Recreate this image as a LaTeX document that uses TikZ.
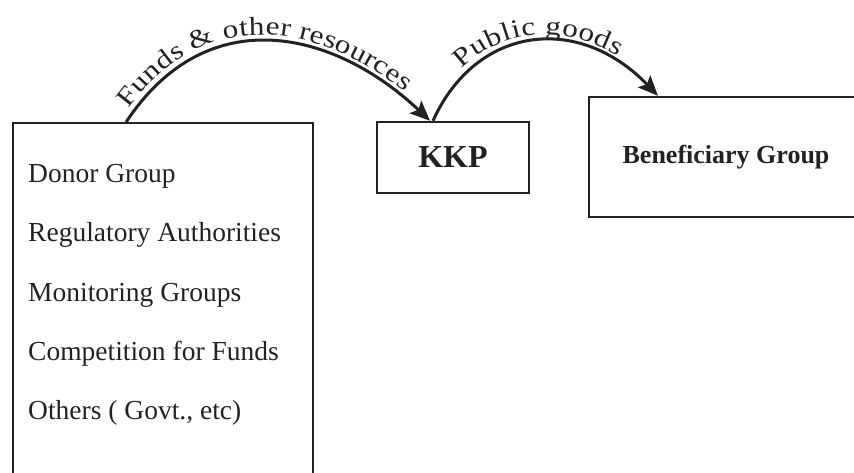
\documentclass[tikz,border=0pt]{standalone}
\usepackage{fontspec}
\setmainfont{Liberation Serif}
\newfontfamily\arcfont{Liberation Serif}[FakeStretch=1.2]
\usetikzlibrary{positioning,arrows.meta,decorations.text}
\definecolor{ink}{RGB}{34,34,34}

\begin{document}
\begin{tikzpicture}[x=1pt,y=1pt]
    \tikzstyle{box}=[draw=ink, line width=2.4pt, inner sep=0pt, text=ink]
    \tikzstyle{item}=[anchor=base west, inner sep=0pt, text=ink, font=\fontsize{27.5}{30}\selectfont]
    \tikzstyle{flow}=[draw=ink, line width=3pt, -{Stealth[length=20pt,width=17pt,inset=4pt]}]
    \useasboundingbox (0,0) rectangle (854,472);
    \clip (0,0) rectangle (854,472);

    \node[box, anchor=north west, minimum width=300pt, minimum height=420pt] (actors) at (12,350) {};
    \foreach \txt [count=\i] in {Donor Group, Regulatory Authorities, Monitoring Groups,
        Competition for Funds, {Others ( Govt., etc)}}
        \node[item] (item\i) at (28,348-59*\i) {\txt};

    \node[box, minimum width=152pt, minimum height=71pt, font=\fontsize{32}{34}\selectfont\bfseries] (kkp) at (453,314.5) {KKP};
    \node[box, minimum width=274pt, minimum height=120pt, font=\fontsize{26}{28}\selectfont\bfseries] (benef) at (726,315) {Beneficiary Group};

    \draw[flow, postaction={decorate, decoration={text along path, raise=6pt, text color=ink,
        text align={left indent=12pt},
        text={|\arcfont\fontsize{26}{26}\selectfont|Funds {\&} other resources}}}]
        ([xshift=-37pt]actors.north) .. controls +(82,124) and +(-94,89) .. ([xshift=-23pt]kkp.north);
    \draw[flow, postaction={decorate, decoration={text along path, raise=6pt, text color=ink,
        text align={left indent=58pt},
        text={|\arcfont\fontsize{26}{26}\selectfont|Public goods}}}]
        ([xshift=-20pt]kkp.north) .. controls +(43,95) and +(-80,83) .. ([xshift=-68pt]benef.north);
\end{tikzpicture}
\end{document}
